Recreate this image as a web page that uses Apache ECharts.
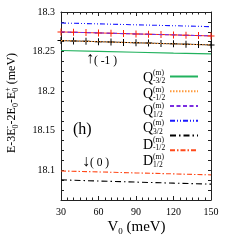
<!DOCTYPE html>
<html><head><meta charset="utf-8">
<script src="https://cdn.jsdelivr.net/npm/echarts@6/dist/echarts.min.js"></script>
<style>html,body{margin:0;padding:0;background:#fff}#c{width:245px;height:245px}</style>
</head><body><div id="c"></div>
<script>
// ---- data ----
const xTickLabels = ['30','60','90','120','150'];
const yTickLabels = ['18.1','18.15','18.2','18.25','18.3'];
const vLine = [30, 60, 90, 120, 150];
const Qm32 = [18.2513, 18.2503, 18.2492, 18.2481, 18.2471];
const Qm12 = [18.2639, 18.2625, 18.2611, 18.2597, 18.2584];
const Q12  = [18.2748, 18.2736, 18.2723, 18.2711, 18.2698];
const Q32  = [18.2861, 18.2850, 18.2838, 18.2827, 18.2815];
const Dm12 = [18.0879, 18.0865, 18.0851, 18.0838, 18.0825];
const D12  = [18.0992, 18.0980, 18.0967, 18.0955, 18.0942];
const vPts = [30, 40, 50, 60, 70, 80, 90, 100, 110, 120, 130, 140, 150];
const blackPlus = [18.2639,18.2634,18.2630,18.2625,18.2621,18.2616,18.2611,18.2607,18.2602,18.2598,18.2593,18.2589,18.2584];
const redPlus   = [18.2748,18.2744,18.2740,18.2736,18.2731,18.2727,18.2723,18.2719,18.2715,18.2711,18.2706,18.2702,18.2698];

const FF = '"Liberation Serif", "DejaVu Serif", serif';
const cv = document.createElement('canvas').getContext('2d');
function tw(t, s){ cv.font = s + 'px ' + FF; return cv.measureText(t).width; }
function txt(t, x, y, s){
  return {type:'text', x:x, y:y, style:{text:t, font: s + 'px ' + FF, fill:'#000', align:'left', verticalAlign:'middle'}};
}
function layout(parts, x0, y0, centered){
  let w = 0; const items = [];
  parts.forEach(p => {
    if (p.sup !== undefined || p.sub !== undefined){
      const w1 = p.sup ? tw(p.sup, p.s) : 0, w2 = p.sub ? tw(p.sub, p.s) : 0;
      if (p.sup) items.push({t:p.sup, s:p.s, x:w, dy:p.up});
      if (p.sub) items.push({t:p.sub, s:p.s, x:w, dy:p.down});
      w += Math.max(w1, w2);
    } else {
      items.push({t:p.t, s:p.s, x:w, dy:p.dy||0});
      w += tw(p.t, p.s);
    }
  });
  const off = centered ? -w/2 : 0;
  return items.map(it => txt(it.t, x0 + off + it.x, y0 + it.dy, it.s));
}
const zip = (a,b) => a.map((v,i)=>[v,b[i]]);

const legendNames = ['Qm32','Qm12','Q12','Q32','Dm12','D12'];
const legendLabel = [['Q','-3/2'],['Q','-1/2'],['Q','1/2'],['Q','3/2'],['D','-1/2'],['D','1/2']];
const LY0 = 77.5, LDY = 16.75;

const graphics = [];
legendLabel.forEach((l,i) => {
  const y = LY0 + LDY*i;
  graphics.push(...layout([{t:l[0], s:14, dy:0.5},{sup:'(m)', sub:l[1], s:7.5, up:-4.5, down:3.8}], 143, y, false));
});
graphics.push({type:'group', x:12, y:103, rotation:Math.PI/2, children:
  layout([{t:'E-3E',s:12},{sup:'-',sub:'0',s:8,up:-4,down:3.5},{t:'-2E',s:12},{sub:'0',s:8,down:3.5},{t:'-E',s:12},{sup:'+',sub:'0',s:8,up:-4,down:3.5},{t:' (meV)',s:12}], 0, 0, true)});
graphics.push(...layout([{t:'V',s:15},{sub:'0',s:9,down:5},{t:' (meV)',s:15}], 136.5, 227, true));
graphics.push(txt('↑', 86, 59, 16));
graphics.push(txt('( -1 )', 94, 61, 11.5));
graphics.push(txt('(h)', 73, 130, 16));
graphics.push(txt('↓', 82, 162, 16));
graphics.push(txt('( 0 )', 90, 163, 11.5));

function yFmt(v){
  const k = Math.round(v*10000);
  const f = yTickLabels.find(s => Math.round(parseFloat(s)*10000) === k);
  return f || '';
}
const axisCommon = {
  axisLine:{show:true, onZero:false, lineStyle:{color:'#222', width:1}},
  axisTick:{show:true, inside:true, length:4, lineStyle:{color:'#222'}},
  splitLine:{show:false}
};
const xBase = Object.assign({}, axisCommon, {type:'value', min:30, max:150, interval:30,
  minorTick:{show:true, splitNumber:6, length:2.5, lineStyle:{color:'#222'}}});
const yBase = Object.assign({}, axisCommon, {type:'value', min:18.0625, max:18.3, interval:0.0125,
  axisTick:{show:true, inside:true, length:3, lineStyle:{color:'#222'}}});

const line = (name, data, color, type) => ({name, type:'line', data, symbol:'none', silent:true,
  lineStyle:{color, width:1.1, type}, itemStyle:{color}, z:3});
const plus = (data, color) => ({type:'line', data, symbol:'path://M4.3,0H5.7V4.3H10V5.7H5.7V10H4.3V5.7H0V4.3H4.3Z',
  symbolSize:7, showSymbol:true, lineStyle:{color, width:0.9}, itemStyle:{color}, z:2, silent:true});

const chart = echarts.init(document.getElementById('c'), null, {renderer:'canvas'});
chart.setOption({
  animation:false,
  grid:{left:61, top:12, right:34, bottom:45},
  xAxis:[
    Object.assign({}, xBase, {position:'bottom', axisLabel:{show:true, margin:7, fontSize:10, fontFamily:FF, color:'#000',
      formatter:(v)=> xTickLabels.find(s=>+s===v) || ''}}),
    Object.assign({}, xBase, {position:'top', axisLabel:{show:false}})
  ],
  yAxis:[
    Object.assign({}, yBase, {position:'left', axisLabel:{show:true, margin:6, fontSize:10, fontFamily:FF, color:'#000', formatter:yFmt}}),
    Object.assign({}, yBase, {position:'right', axisLabel:{show:false}})
  ],
  legend:{orient:'vertical', left:169, top:LY0-5, padding:0, itemWidth:28, itemHeight:10, itemGap:LDY-10,
    data:legendNames, formatter:()=>'', textStyle:{fontSize:1, lineHeight:1}, selectedMode:false,
    itemStyle:{opacity:0, borderWidth:0}, lineStyle:{opacity:1}},
  graphic:graphics,
  series:[
    plus(zip(vPts, blackPlus), '#000'),
    plus(zip(vPts, redPlus), '#ff2200'),
    line('Qm32', zip(vLine, Qm32), '#22b25e', 'solid'),
    line('Qm12', zip(vLine, Qm12), '#ff9a3c', [1.5,1.5]),
    line('Q12',  zip(vLine, Q12),  '#7a2de0', [4,2.5]),
    line('Q32',  zip(vLine, Q32),  '#1a1aff', [5,2,1,2,1,2]),
    line('Dm12', zip(vLine, Dm12), '#000000', [6,3,1.5,3]),
    line('D12',  zip(vLine, D12),  '#ff4a1a', [5,2,1.5,2])
  ]
});
</script></body></html>
